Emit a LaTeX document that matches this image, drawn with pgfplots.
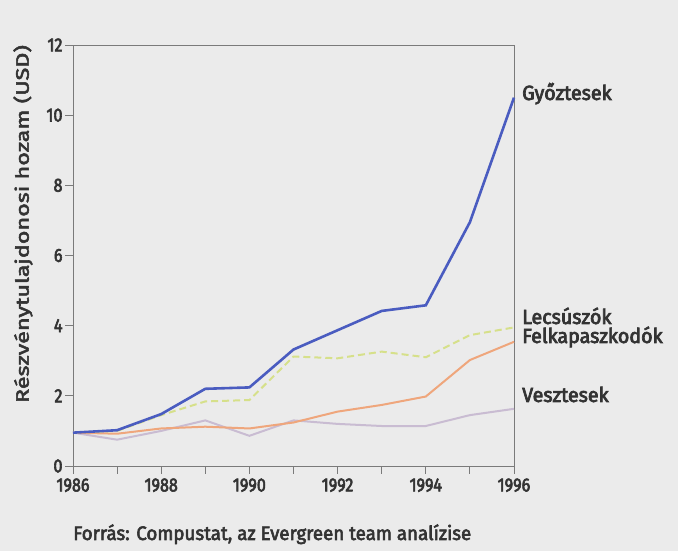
\documentclass[border=0pt]{standalone}
\usepackage{pgfplots}
\pgfplotsset{compat=1.18}
\usepackage{fontspec}
\setmainfont{Fira Sans}
\newfontfamily\tickfont[FakeStretch=0.85, FakeBold=3]{Fira Sans}
\newfontfamily\ylabfont[FakeStretch=1.3, FakeBold=3]{Fira Sans}
\newfontfamily\serfont[FakeStretch=0.96, FakeBold=3.5]{Fira Sans}
\newfontfamily\srcfont[FakeStretch=0.96, FakeBold=3]{Fira Sans}
\definecolor{bg}{HTML}{EBEBEB}
\definecolor{txt}{HTML}{333333}
\definecolor{gyoz}{HTML}{4A5CC0}
\definecolor{lecs}{HTML}{D6E08A}
\definecolor{felk}{HTML}{EFA67C}
\definecolor{veszt}{HTML}{C9BCD2}
\definecolor{axc}{HTML}{7A7A7A}
\begin{document}
\begin{tikzpicture}
\fill[bg] (-73pt,-85pt) rectangle (605pt,466pt);
\begin{axis}[
  at={(0pt,0pt)}, anchor=south west,
  width=441pt, height=421pt, scale only axis,
  xmin=1986, xmax=1996, ymin=0, ymax=12,
  axis line style={axc, line width=0.9pt},
  xtick={1986,1987,...,1996},
  xticklabels={1986,,1988,,1990,,1992,,1994,,1996},
  ytick={0,2,...,12},
  xtick pos=bottom, ytick pos=left,
  tick align=outside,
  major tick length=8pt,
  tick style={axc, line width=0.9pt},
  /pgf/number format/assume math mode=true,
  ticklabel style={font=\tickfont\fontsize{19}{22}\selectfont, text=txt},
  xticklabel style={yshift=-1pt},
  yticklabel style={xshift=1pt},
  clip=false,
]
\addplot[veszt, line width=2pt] coordinates {
(1986,0.95) (1987,0.75) (1988,1.0) (1989,1.3) (1990,0.86) (1991,1.3)
(1992,1.2) (1993,1.14) (1994,1.14) (1995,1.45) (1996,1.63)};
\addplot[felk, line width=2pt] coordinates {
(1986,0.95) (1987,0.92) (1988,1.07) (1989,1.12) (1990,1.07) (1991,1.24)
(1992,1.55) (1993,1.74) (1994,1.98) (1995,3.02) (1996,3.54)};
\addplot[lecs, line width=2pt, dash pattern=on 7pt off 4pt] coordinates {
(1986,0.95) (1987,1.0) (1988,1.45) (1989,1.84) (1990,1.88) (1991,3.12)
(1992,3.07) (1993,3.26) (1994,3.1) (1995,3.73) (1996,3.95)};
\addplot[gyoz, line width=2.6pt] coordinates {
(1986,0.95) (1987,1.02) (1988,1.48) (1989,2.2) (1990,2.24) (1991,3.32)
(1992,3.87) (1993,4.42) (1994,4.58) (1995,6.95) (1996,10.5)};
\end{axis}
\begin{scope}[every node/.style={text=txt, inner sep=0pt}]
\begin{scope}[every node/.append style={anchor=base west, font=\serfont\fontsize{20.5}{22}\selectfont}]
\node at (449pt,366pt) {Győztesek};
\node at (449pt,142pt) {Lecsúszók};
\node at (449pt,123pt) {Felkapaszkodók};
\node at (449pt,64pt) {Vesztesek};
\end{scope}
\node[rotate=90, font=\ylabfont\fontsize{18}{20}\selectfont] at (-50pt,242pt) {Részvénytulajdonosi hozam (USD)};
\node[anchor=base west, font=\srcfont\fontsize{19.5}{22}\selectfont] at (0pt,-74pt) {Forrás: Compustat, az Evergreen team analízise};
\end{scope}
\pgfresetboundingbox
\path (-73pt,-85pt) rectangle (605pt,466pt);
\end{tikzpicture}
\end{document}
